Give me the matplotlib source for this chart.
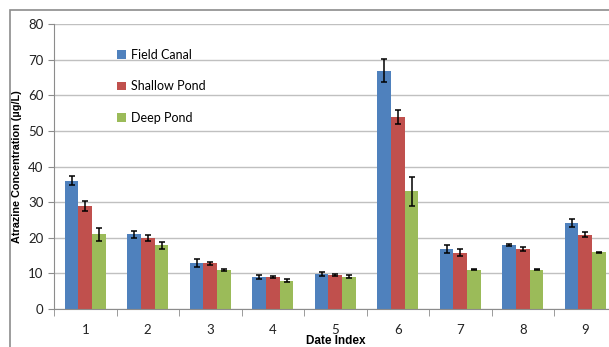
import matplotlib.pyplot as plt
import matplotlib.patches as mpatches
import numpy as np

plt.rcParams['font.family'] = ['Lato', 'DejaVu Sans']

# Data
dates = ['1', '2', '3', '4', '5', '6', '7', '8', '9']
field_canal = [36.0, 21.0, 12.8, 9.0, 9.9, 66.9, 16.8, 17.9, 24.1]
field_canal_err = [1.3, 1.0, 1.1, 0.6, 0.5, 3.2, 1.2, 0.3, 1.2]
shallow_pond = [29.0, 20.0, 12.8, 9.0, 9.5, 54.0, 15.8, 16.9, 20.9]
shallow_pond_err = [1.4, 0.8, 0.4, 0.4, 0.2, 2.0, 1.0, 0.5, 0.6]
deep_pond = [21.0, 17.9, 11.0, 8.0, 9.1, 33.0, 11.0, 11.0, 15.9]
deep_pond_err = [1.8, 1.0, 0.2, 0.5, 0.5, 4.0, 0.15, 0.15, 0.2]

series = [('Field Canal', field_canal, field_canal_err, '#4F81BD'),
          ('Shallow Pond', shallow_pond, shallow_pond_err, '#C0504D'),
          ('Deep Pond', deep_pond, deep_pond_err, '#9BBB59')]

fig = plt.figure(figsize=(6.09, 3.47), dpi=100)
fig.patch.set_facecolor('white')

# outer chart-area frame (cropped on the right and bottom)
frame = mpatches.Rectangle((10 / 609, -0.2), 1.2, 1.2 - 10 / 347,
                           transform=fig.transFigure, fill=False,
                           edgecolor='#8c8c8c', linewidth=1.2, zorder=0)
fig.patches.append(frame)

ax = fig.add_axes([54 / 609, 1 - 309 / 347, 562.5 / 609, 285 / 347])

x = np.arange(len(dates))
w = 0.22
for i, (name, vals, errs, col) in enumerate(series):
    ax.bar(x + (i - 1) * w, vals, w, color=col, label=name, zorder=2,
           yerr=errs, capsize=2.5,
           error_kw=dict(ecolor='black', elinewidth=1.1, capthick=1.1))

ax.set_ylim(0, 80)
ax.set_xlim(-0.5, len(dates) - 0.5)
ax.set_yticks(np.arange(0, 81, 10))
ax.yaxis.grid(True, color='#c0c0c0', linewidth=1.0, zorder=0)
ax.set_axisbelow(True)

ax.set_xticks(x)
ax.set_xticklabels(dates)
ax.set_xticks(np.arange(-0.5, len(dates), 1), minor=True)
ax.tick_params(axis='x', which='major', length=0, pad=11, labelsize=9.5, colors='#222222')
ax.tick_params(axis='x', which='minor', length=5, color='#8c8c8c', direction='out')
ax.tick_params(axis='y', length=4, color='#8c8c8c', labelsize=9.5, labelcolor='#222222')

for s in ['top', 'right']:
    ax.spines[s].set_visible(False)
for s in ['left', 'bottom']:
    ax.spines[s].set_color('#8c8c8c')

ax.set_ylabel('Atrazine Concentration (µg/L)', fontsize=7.8, fontweight='bold',
              family=['Liberation Sans', 'DejaVu Sans'])
ax.yaxis.set_label_coords(-32 / 562.5, 0.5)
ax.set_xlabel('Date Index', fontsize=8.5, fontweight='bold',
              family=['Liberation Sans', 'DejaVu Sans'], va='center')
ax.xaxis.set_label_coords(0.5, -32 / 285)

leg = ax.legend(loc='upper left', bbox_to_anchor=(112 / 609, 1 - 44 / 347),
                bbox_transform=fig.transFigure, frameon=False, fontsize=9,
                handlelength=0.7, handleheight=0.7, handletextpad=0.4,
                labelspacing=1.55, borderaxespad=0)

fig.savefig('out.png', dpi=100, facecolor='white')
